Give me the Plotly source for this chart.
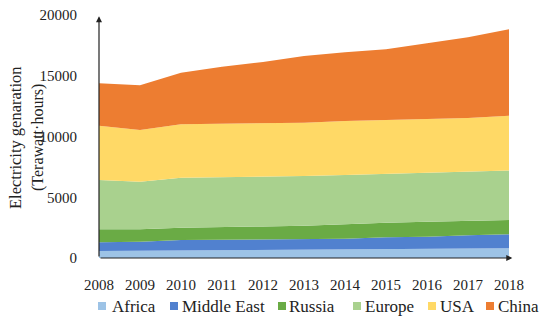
import plotly.graph_objects as go

years = [2008, 2009, 2010, 2011, 2012, 2013, 2014, 2015, 2016, 2017, 2018]
# cumulative tops, converted to per-series values below
top_africa = [580, 600, 620, 640, 660, 680, 700, 720, 740, 770, 800]
top_me = [1290, 1340, 1480, 1500, 1560, 1580, 1590, 1700, 1750, 1870, 1950]
top_russia = [2360, 2360, 2490, 2520, 2600, 2650, 2800, 2910, 2990, 3050, 3130]
top_europe = [6420, 6280, 6610, 6640, 6690, 6750, 6830, 6910, 7020, 7100, 7210]
top_usa = [10890, 10530, 11000, 11030, 11080, 11140, 11280, 11360, 11470, 11520, 11710]
top_china = [14380, 14210, 15250, 15750, 16130, 16630, 16930, 17180, 17670, 18160, 18820]

africa = top_africa
middle_east = [b - a for a, b in zip(top_africa, top_me)]
russia = [b - a for a, b in zip(top_me, top_russia)]
europe = [b - a for a, b in zip(top_russia, top_europe)]
usa = [b - a for a, b in zip(top_europe, top_usa)]
china = [b - a for a, b in zip(top_usa, top_china)]

names = ["Africa", "Middle East", "Russia", "Europe", "USA", "China"]
values = [africa, middle_east, russia, europe, usa, china]
colors = ["#9DC3E6", "#5181CF", "#6AAB45", "#A9D18E", "#FFD966", "#ED7D31"]
y_ticks = [0, 5000, 10000, 15000, 20000]

font_family = "Liberation Serif"
W, H = 550, 320
L, R, T, B = 99, 41, 15, 62
PW, PH = W - L - R, H - T - B


def px_x(p):
    return (p - L) / PW


def px_y(p):
    return (H - B - p) / PH


fig = go.Figure()
for name, vals, color in zip(names, values, colors):
    fig.add_trace(go.Scatter(
        x=years, y=vals, name=name, mode="lines",
        stackgroup="one", line=dict(width=0, color=color),
        fillcolor=color, showlegend=False,
    ))

fig.update_layout(
    width=W, height=H,
    margin=dict(l=L, r=R, t=T, b=B, autoexpand=False),
    paper_bgcolor="white", plot_bgcolor="white",
    font=dict(family=font_family, size=15, color="#222"),
    showlegend=False,
    xaxis=dict(range=[years[0], years[-1]], tickmode="array", tickvals=years,
               ticktext=[str(y) for y in years], showgrid=False, zeroline=False,
               showline=False, ticks="", ticklabelstandoff=16, automargin=False),
    yaxis=dict(range=[0, 20000], tickvals=y_ticks,
               tickformat="d", showgrid=False, zeroline=False, showline=False,
               ticks="", ticklabelstandoff=21, automargin=False),
)

# axis lines with arrowheads
fig.add_annotation(x=years[0], y=19900, ax=years[0], ay=0, xref="x", yref="y",
                   axref="x", ayref="y", text="", showarrow=True,
                   arrowhead=2, arrowsize=1, arrowwidth=1.2, arrowcolor="#222")
fig.add_annotation(x=years[-1] + 0.08, y=0, ax=years[0], ay=0, xref="x", yref="y",
                   axref="x", ayref="y", text="", showarrow=True,
                   arrowhead=2, arrowsize=1, arrowwidth=1.2, arrowcolor="#222")

# y-axis title (two lines)
fig.add_annotation(text="Electricity genaration", xref="paper", yref="paper",
                   x=px_x(15), y=px_y(138), xanchor="center", yanchor="middle",
                   textangle=-90, showarrow=False,
                   font=dict(size=16.5, family=font_family))
fig.add_annotation(text="(Terawatt·hours)", xref="paper", yref="paper",
                   x=px_x(38), y=px_y(138), xanchor="center", yanchor="middle",
                   textangle=-90, showarrow=False,
                   font=dict(size=16, family=font_family))

# custom legend
sq_left = [98, 170, 278, 353, 428, 486]
txt_left = [110, 180, 287, 363, 438, 496]
ly = 306
for name, color, sx, tx in zip(names, colors, sq_left, txt_left):
    fig.add_shape(type="rect", xref="paper", yref="paper",
                  x0=px_x(sx), x1=px_x(sx + 8), y0=px_y(ly + 4), y1=px_y(ly - 4),
                  fillcolor=color, line=dict(width=0))
    fig.add_annotation(text=name, xref="paper", yref="paper", x=px_x(tx),
                       y=px_y(ly), xanchor="left", yanchor="middle",
                       showarrow=False, font=dict(size=17, family=font_family))

fig.write_html("out.html", config={"displayModeBar": False},
               post_script="document.body.style.margin='0';")
